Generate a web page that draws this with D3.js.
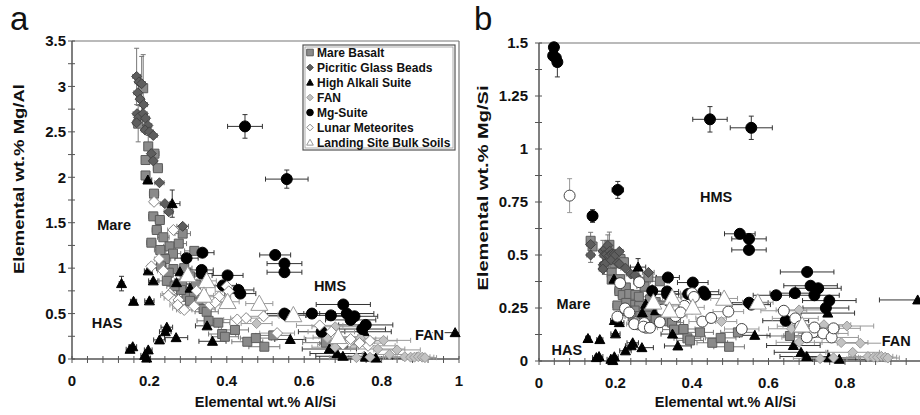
<!DOCTYPE html>
<html>
<head>
<meta charset="utf-8">
<script src="https://cdn.jsdelivr.net/npm/d3@7"></script>
<style>
body { margin: 0; background: #fff; }
text { font-family: "Liberation Sans", Arial, sans-serif; fill: #111; }
</style>
</head>
<body>
<svg id="chart" width="920" height="415"></svg>
<script>
// each point: [Al/Si, Mg/Al (panel a), Mg/Si (panel b), xErr, yErrA, yErrB]
// null Mg/Al = off the top of panel a
var mareBasalt = [
    [0.184, 2.98, 0.548, 0.01, 0.37, 0.06], [0.171, 2.59, 0.443, 0.01, 0.2, 0.035],
    [0.197, 2.34, 0.461, 0.01, 0.12, 0.025], [0.213, 2.26, 0.481, 0.012],
    [0.19, 2.19, 0.416, 0.01], [0.222, 2.10, 0.466, 0.012], [0.19, 2.02, 0.384, 0.01],
    [0.212, 1.82, 0.386, 0.012], [0.21, 1.57, 0.33, 0.012], [0.227, 1.53, 0.347, 0.012],
    [0.219, 1.42, 0.311, 0.012], [0.236, 1.34, 0.316, 0.015], [0.252, 1.24, 0.312, 0.015],
    [0.286, 1.38, 0.395, 0.02], [0.276, 1.27, 0.351, 0.02], [0.261, 1.16, 0.303, 0.02],
    [0.24, 1.10, 0.264, 0.015], [0.316, 1.19, 0.376, 0.025], [0.262, 0.99, 0.259, 0.02],
    [0.25, 0.95, 0.238, 0.02], [0.29, 1.00, 0.29, 0.02], [0.305, 0.91, 0.278, 0.025],
    [0.284, 0.83, 0.236, 0.02], [0.32, 0.82, 0.262, 0.025], [0.296, 0.685, 0.203, 0.025],
    [0.282, 0.76, 0.214, 0.02], [0.315, 0.72, 0.227, 0.025], [0.325, 0.62, 0.2, 0.025],
    [0.34, 0.55, 0.187, 0.03], [0.348, 0.52, 0.181, 0.03], [0.353, 0.42, 0.148, 0.03],
    [0.378, 0.40, 0.151, 0.03], [0.388, 0.275, 0.107, 0.035], [0.395, 0.245, 0.097, 0.035],
    [0.421, 0.32, 0.135, 0.035], [0.453, 0.19, 0.086, 0.04], [0.475, 0.23, 0.109, 0.04],
    [0.497, 0.135, 0.067, 0.04], [0.52, 0.26, 0.135, 0.045], [0.656, 0.18, 0.118, 0.06],
    [0.70, 0.17, 0.119, 0.06], [0.205, 1.28, 0.262, 0.012], [0.228, 1.2, 0.274, 0.015],
    [0.23, 1.02, 0.235, 0.015], [0.245, 0.86, 0.211, 0.02], [0.265, 0.8, 0.212, 0.02],
    [0.305, 0.64, 0.195, 0.025], [0.135, null, 0.567, 0.01, 0, 0.04], [0.14, null, 0.54, 0.01]
];
var picriticBeads = [
    [0.167, 3.11, 0.519, 0.01, 0.31, 0.05], [0.173, 3.05, 0.528, 0.01], [0.18, 3.03, 0.545, 0.01, 0.3, 0.05],
    [0.17, 2.93, 0.498, 0.01], [0.176, 2.86, 0.503, 0.01], [0.185, 2.80, 0.518, 0.01],
    [0.168, 2.70, 0.454, 0.01], [0.172, 2.66, 0.458, 0.01], [0.184, 2.70, 0.497, 0.01],
    [0.167, 2.60, 0.434, 0.01], [0.19, 2.65, 0.504, 0.01], [0.196, 2.57, 0.504, 0.01],
    [0.189, 2.52, 0.476, 0.01], [0.20, 2.50, 0.50, 0.01], [0.21, 2.46, 0.517, 0.01],
    [0.205, 2.26, 0.463, 0.01], [0.21, 2.18, 0.458, 0.01], [0.226, 1.94, 0.438, 0.012],
    [0.24, 1.71, 0.41, 0.012], [0.25, 1.62, 0.405, 0.012], [0.286, 1.46, 0.418, 0.015],
    [0.135, null, 0.55, 0.01], [0.135, null, 0.50, 0.01, 0, 0.035]
];
var highAlkali = [
    [0.128, 0.83, 0.106, 0.006, 0.08, 0.012], [0.159, 0.635, 0.101, 0.008], [0.2, 0.64, 0.128, 0.012],
    [0.15, 0.107, 0.016, 0.01], [0.157, 0.135, 0.021, 0.01], [0.188, 0.04, 0.008, 0.01],
    [0.197, 0.10, 0.02, 0.01], [0.193, 0.01, 0.002, 0.01], [0.245, 0.35, 0.086, 0.015],
    [0.241, 0.30, 0.072, 0.015], [0.226, 0.21, 0.048, 0.015], [0.269, 0.235, 0.063, 0.03],
    [0.363, 0.195, 0.071, 0.035], [0.349, 0.365, 0.127, 0.03], [0.564, 0.215, 0.121, 0.04],
    [0.665, 0.11, 0.073, 0.07], [0.685, 0.06, 0.041, 0.07], [0.70, 0.03, 0.021, 0.07],
    [0.758, 0.02, 0.015, 0.07], [0.785, 0.01, 0.008, 0.07], [0.755, 0.30, 0.226, 0.07],
    [0.99, 0.29, 0.288, 0.1], [0.196, 1.97, 0.386, 0.01], [0.259, 1.71, 0.443, 0.02, 0.15, 0.04],
    [0.197, 0.97, 0.191, 0.01], [0.21, 0.86, 0.181, 0.012], [0.279, 0.96, 0.268, 0.02],
    [0.27, 0.84, 0.227, 0.02], [0.305, 0.78, 0.238, 0.02]
];
var fan = [
    [0.477, 0.39, 0.186, 0.04], [0.66, 0.23, 0.152, 0.06], [0.68, 0.355, 0.241, 0.06],
    [0.745, 0.23, 0.171, 0.07], [0.805, 0.205, 0.165, 0.07], [0.79, 0.11, 0.087, 0.07],
    [0.82, 0.05, 0.041, 0.07], [0.68, 0.13, 0.088, 0.06], [0.84, 0.10, 0.084, 0.06],
    [0.735, 0.015, 0.011, 0.07], [0.77, 0.02, 0.015, 0.07], [0.86, 0.025, 0.021, 0.05],
    [0.875, 0.02, 0.018, 0.04], [0.885, 0.02, 0.018, 0.03], [0.895, 0.025, 0.022, 0.03],
    [0.905, 0.02, 0.018, 0.03], [0.912, 0.015, 0.014, 0.03]
];
var mgSuite = [
    [0.039, null, 1.48, 0], [0.037, null, 1.44, 0], [0.044, null, 1.43, 0, 0, 0.04],
    [0.048, null, 1.41, 0, 0, 0.07], [0.14, null, 0.684, 0.012, 0, 0.03],
    [0.206, null, 0.807, 0.015, 0, 0.04], [0.447, 2.56, 1.14, 0.045, 0.13, 0.06],
    [0.555, 1.98, 1.10, 0.055, 0.10, 0.055], [0.525, 1.145, 0.60, 0.04, 0, 0.02],
    [0.549, 1.05, 0.576, 0.045], [0.549, 0.955, 0.524, 0.045, 0, 0.02],
    [0.701, 0.60, 0.42, 0.07], [0.71, 0.50, 0.355, 0.07], [0.73, 0.47, 0.343, 0.06],
    [0.72, 0.43, 0.31, 0.065], [0.759, 0.375, 0.285, 0.07], [0.75, 0.33, 0.25, 0.06],
    [0.645, 0.30, 0.19, 0.06], [0.62, 0.50, 0.31, 0.06], [0.669, 0.48, 0.32, 0.065],
    [0.549, 0.50, 0.275, 0.05], [0.555, 0.48, 0.266, 0.05], [0.43, 0.76, 0.327, 0.04],
    [0.435, 0.72, 0.313, 0.04], [0.402, 0.92, 0.37, 0.04], [0.39, 0.81, 0.316, 0.035],
    [0.337, 1.17, 0.394, 0.03], [0.296, 1.11, 0.33, 0.03], [0.335, 0.98, 0.328, 0.03],
    [0.335, 0.94, 0.315, 0.03]
];
var lunarMeteorites = [
    [0.08, null, 0.78, 0, 0, 0.08], [0.212, 1.73, 0.367, 0.01], [0.262, 1.42, 0.372, 0.015],
    [0.225, 1.10, 0.248, 0.012], [0.205, 1.02, 0.209, 0.01], [0.236, 0.97, 0.229, 0.015],
    [0.253, 0.72, 0.182, 0.02], [0.258, 0.67, 0.173, 0.02], [0.249, 0.70, 0.174, 0.02],
    [0.275, 0.65, 0.179, 0.02], [0.28, 0.56, 0.157, 0.02], [0.273, 0.595, 0.162, 0.02],
    [0.29, 0.54, 0.157, 0.02], [0.316, 0.58, 0.183, 0.025], [0.322, 0.75, 0.242, 0.025],
    [0.357, 0.595, 0.212, 0.03], [0.38, 0.685, 0.26, 0.03], [0.37, 0.62, 0.229, 0.03],
    [0.40, 0.80, 0.32, 0.03], [0.405, 0.745, 0.302, 0.035], [0.427, 0.435, 0.186, 0.035],
    [0.45, 0.45, 0.203, 0.04], [0.495, 0.47, 0.233, 0.04], [0.53, 0.285, 0.151, 0.045],
    [0.64, 0.37, 0.237, 0.06], [0.67, 0.30, 0.201, 0.06], [0.683, 0.24, 0.164, 0.06],
    [0.717, 0.19, 0.136, 0.065], [0.743, 0.175, 0.13, 0.065], [0.765, 0.145, 0.111, 0.07],
    [0.77, 0.20, 0.154, 0.07], [0.72, 0.22, 0.158, 0.065], [0.70, 0.16, 0.112, 0.065]
];
var landingSoils = [
    [0.299, 0.925, 0.277, 0.02], [0.348, 0.86, 0.299, 0.025], [0.341, 0.70, 0.239, 0.025],
    [0.402, 0.63, 0.253, 0.03], [0.484, 0.61, 0.295, 0.035], [0.572, 0.485, 0.277, 0.04],
    [0.688, 0.245, 0.169, 0.05]
];

var seriesNames = ['Mare Basalt', 'Picritic Glass Beads', 'High Alkali Suite', 'FAN',
    'Mg-Suite', 'Lunar Meteorites', 'Landing Site Bulk Soils'];
var xTickLabels = [0, 0.2, 0.4, 0.6, 0.8, 1];
var yTickLabelsA = [0, 0.5, 1, 1.5, 2, 2.5, 3, 3.5];
var yTickLabelsB = [0, 0.25, 0.5, 0.75, 1, 1.25, 1.5];
var regionLabelsA = [['Mare', 0.065, 1.42], ['HAS', 0.051, 0.34], ['HMS', 0.625, 0.75], ['FAN', 0.886, 0.21]];
var regionLabelsB = [['HMS', 0.421, 0.75], ['Mare', 0.046, 0.245], ['HAS', 0.033, 0.028], ['FAN', 0.896, 0.071]];

var SERIES = [
    { data: mareBasalt, shape: 'square', r: 4.5, fill: '#8a8a8a', stroke: '#5c5c5c', err: '#777' },
    { data: picriticBeads, shape: 'diamond', r: 5, fill: '#5e5e5e', stroke: '#444', err: '#777' },
    { data: highAlkali, shape: 'triangle', r: 5, fill: '#000', stroke: '#000', err: '#333' },
    { data: fan, shape: 'diamond', r: 5, fill: '#c2c2c2', stroke: '#999', err: '#999' },
    { data: mgSuite, shape: 'circle', r: 5.5, fill: '#000', stroke: '#000', err: '#333' },
    { data: lunarMeteorites, shape: 'diamond', shapeB: 'circle', r: 5.5, fill: '#fff', stroke: '#888', strokeB: '#444', err: '#999' },
    { data: landingSoils, shape: 'triangle', r: 8.5, fill: '#fff', stroke: '#999', err: '#999' }
];

function shapePath(shape, s) {
    if (shape === 'square') {
        return 'M' + (-s) + ',' + (-s) + 'h' + 2 * s + 'v' + 2 * s + 'h' + (-2 * s) + 'Z';
    } else if (shape === 'diamond') {
        return 'M0,' + (-s) + 'L' + s + ',0L0,' + s + 'L' + (-s) + ',0Z';
    } else if (shape === 'triangle') {
        return 'M0,' + (-s) + 'L' + s + ',' + (s * 0.8) + 'L' + (-s) + ',' + (s * 0.8) + 'Z';
    }
    return 'M' + s + ',0A' + s + ',' + s + ' 0 1,1 ' + (-s) + ',0A' + s + ',' + s + ' 0 1,1 ' + s + ',0Z';
}

var svg = d3.select('#chart');
var defs = svg.append('defs');

var PANELS = [
    { letter: 'a', letterX: 10, x: d3.scaleLinear().domain([0, 1]).range([72, 459]),
      y: d3.scaleLinear().domain([0, 3.5]).range([359, 41]), yIdx: 1, eIdx: 4,
      yTicks: yTickLabelsA, yMinor: 0.25, rightFrame: true, labelGap: 6,
      yTitle: 'Elemental wt.%  Mg/Al', yTitleX: 24, yTitleY: 179, yTitleLen: 190, labels: regionLabelsA },
    { letter: 'b', letterX: 474, x: d3.scaleLinear().domain([0, 1]).range([539, 921.5]),
      y: d3.scaleLinear().domain([0, 1.5]).range([361, 43]), yIdx: 2, eIdx: 5,
      yTicks: yTickLabelsB, yMinor: 0.125, rightFrame: false, labelGap: 11,
      yTitle: 'Elemental wt.%  Mg/Si', yTitleX: 488, yTitleY: 188, yTitleLen: 205, labels: regionLabelsB }
];

PANELS.forEach(function(p, pi) {
    var g = svg.append('g');
    var x0 = p.x.range()[0], x1 = p.x.range()[1];
    var yb = p.y.range()[0], yt = p.y.range()[1];
    var xEnd = Math.min(x1, 920);

    defs.append('clipPath').attr('id', 'clip' + pi).append('rect')
        .attr('x', x0).attr('y', yt - 30).attr('width', xEnd - x0).attr('height', yb - yt + 40);

    // plot-area frame (top, right)
    g.append('line').attr('x1', x0).attr('x2', xEnd).attr('y1', yt).attr('y2', yt)
        .attr('stroke', '#777').attr('stroke-width', 1.2);
    if (p.rightFrame) {
        g.append('line').attr('x1', x1).attr('x2', x1).attr('y1', yt).attr('y2', yb)
            .attr('stroke', '#777').attr('stroke-width', 1.2);
    }

    // axes
    g.append('line').attr('x1', x0).attr('x2', x1).attr('y1', yb).attr('y2', yb)
        .attr('stroke', '#555').attr('stroke-width', 1.5);
    g.append('line').attr('x1', x0).attr('x2', x0).attr('y1', yt).attr('y2', yb)
        .attr('stroke', '#555').attr('stroke-width', 1.5);

    g.selectAll('.xt').data(d3.range(0, 1.0001, 0.04)).enter().append('line')
        .attr('x1', function(d) { return p.x(d); }).attr('x2', function(d) { return p.x(d); })
        .attr('y1', yb - 3).attr('y2', yb + 4).attr('stroke', '#555');
    var yMax = p.y.domain()[1];
    g.selectAll('.yt').data(d3.range(0, yMax + 1e-6, p.yMinor)).enter().append('line')
        .attr('y1', function(d) { return p.y(d); }).attr('y2', function(d) { return p.y(d); })
        .attr('x1', x0 - 4).attr('x2', x0 + 3).attr('stroke', '#555');

    g.selectAll('.xl').data(xTickLabels.filter(function(d) { return p.x(d) < 912; })).enter().append('text')
        .attr('x', function(d) { return p.x(d); }).attr('y', yb + 27)
        .attr('text-anchor', 'middle').attr('font-size', 15).attr('font-weight', 'bold')
        .text(function(d) { return d; });
    g.selectAll('.yl').data(p.yTicks).enter().append('text')
        .attr('x', x0 - p.labelGap).attr('y', function(d) { return p.y(d); }).attr('dy', '0.35em')
        .attr('text-anchor', 'end').attr('font-size', 15).attr('font-weight', 'bold')
        .text(function(d) { return d; });

    // titles
    g.append('text').attr('x', (x0 + xEnd) / 2 - (pi ? 4 : 0)).attr('y', 407)
        .attr('text-anchor', 'middle').attr('font-size', 14.5).attr('font-weight', 'bold')
        .text('Elemental wt.% Al/Si');
    g.append('text').attr('transform', 'translate(' + p.yTitleX + ',' + p.yTitleY + ') rotate(-90)')
        .attr('text-anchor', 'middle').attr('font-size', 14).attr('font-weight', 'bold')
        .attr('textLength', p.yTitleLen).attr('lengthAdjust', 'spacingAndGlyphs')
        .text(p.yTitle);
    g.append('text').attr('x', p.letterX).attr('y', 30).attr('font-size', 33)
        .text(p.letter);

    // error bars
    var eg = g.append('g').attr('fill', 'none').attr('stroke-width', 1)
        .attr('clip-path', 'url(#clip' + pi + ')');
    SERIES.forEach(function(s) {
        s.data.forEach(function(d) {
            var yv = d[p.yIdx];
            if (yv === null) { return; }
            var cx = p.x(d[0]), cy = p.y(yv);
            if (d[3]) {
                var xa = p.x(d[0] - d[3]), xb = p.x(d[0] + d[3]);
                eg.append('path').attr('stroke', s.err)
                    .attr('d', 'M' + xa + ',' + cy + 'H' + xb + 'M' + xa + ',' + (cy - 2.5) + 'v5M' + xb + ',' + (cy - 2.5) + 'v5');
            }
            var ey = d[p.eIdx];
            if (ey) {
                var ya = p.y(yv + ey), yb2 = p.y(Math.max(0, yv - ey));
                eg.append('path').attr('stroke', s.err)
                    .attr('d', 'M' + cx + ',' + ya + 'V' + yb2 + 'M' + (cx - 2.5) + ',' + ya + 'h5M' + (cx - 2.5) + ',' + yb2 + 'h5');
            }
        });
    });

    // markers
    SERIES.forEach(function(s) {
        var shape = (pi === 1 && s.shapeB) ? s.shapeB : s.shape;
        g.append('g').selectAll('path')
            .data(s.data.filter(function(d) { return d[p.yIdx] !== null; }))
            .enter().append('path')
            .attr('transform', function(d) { return 'translate(' + p.x(d[0]) + ',' + p.y(d[p.yIdx]) + ')'; })
            .attr('d', shapePath(shape, s.r))
            .attr('fill', s.fill)
            .attr('stroke', (pi === 1 && s.strokeB) ? s.strokeB : s.stroke)
            .attr('stroke-width', 1);
    });

    // region labels
    g.selectAll('.rl').data(p.labels).enter().append('text')
        .attr('x', function(d) { return p.x(d[1]); }).attr('y', function(d) { return p.y(d[2]); })
        .attr('font-size', 14.5).attr('font-weight', 'bold')
        .attr('stroke', '#fff').attr('stroke-width', 3).attr('paint-order', 'stroke')
        .text(function(d) { return d[0]; });
});

// legend (panel a)
var lg = svg.append('g').attr('transform', 'translate(303,45)');
lg.append('rect').attr('width', 152).attr('height', 105).attr('fill', '#fff')
    .attr('stroke', '#555').attr('stroke-width', 1.2);
lg.append('rect').attr('x', 2).attr('y', 2).attr('width', 148).attr('height', 101).attr('fill', 'none')
    .attr('stroke', '#999').attr('stroke-width', 0.8);
var rows = lg.selectAll('.row').data(seriesNames).enter().append('g')
    .attr('transform', function(d, i) { return 'translate(7,' + (7.5 + i * 15) + ')'; });
rows.append('path')
    .attr('d', function(d, i) { return shapePath(SERIES[i].shape, 3.3); })
    .attr('fill', function(d, i) { return SERIES[i].fill; })
    .attr('stroke', function(d, i) { return SERIES[i].stroke; });
rows.append('text').attr('x', 7).attr('dy', '0.36em')
    .attr('font-size', 12).attr('font-weight', 'bold')
    .text(function(d) { return d; });
</script>
</body>
</html>
